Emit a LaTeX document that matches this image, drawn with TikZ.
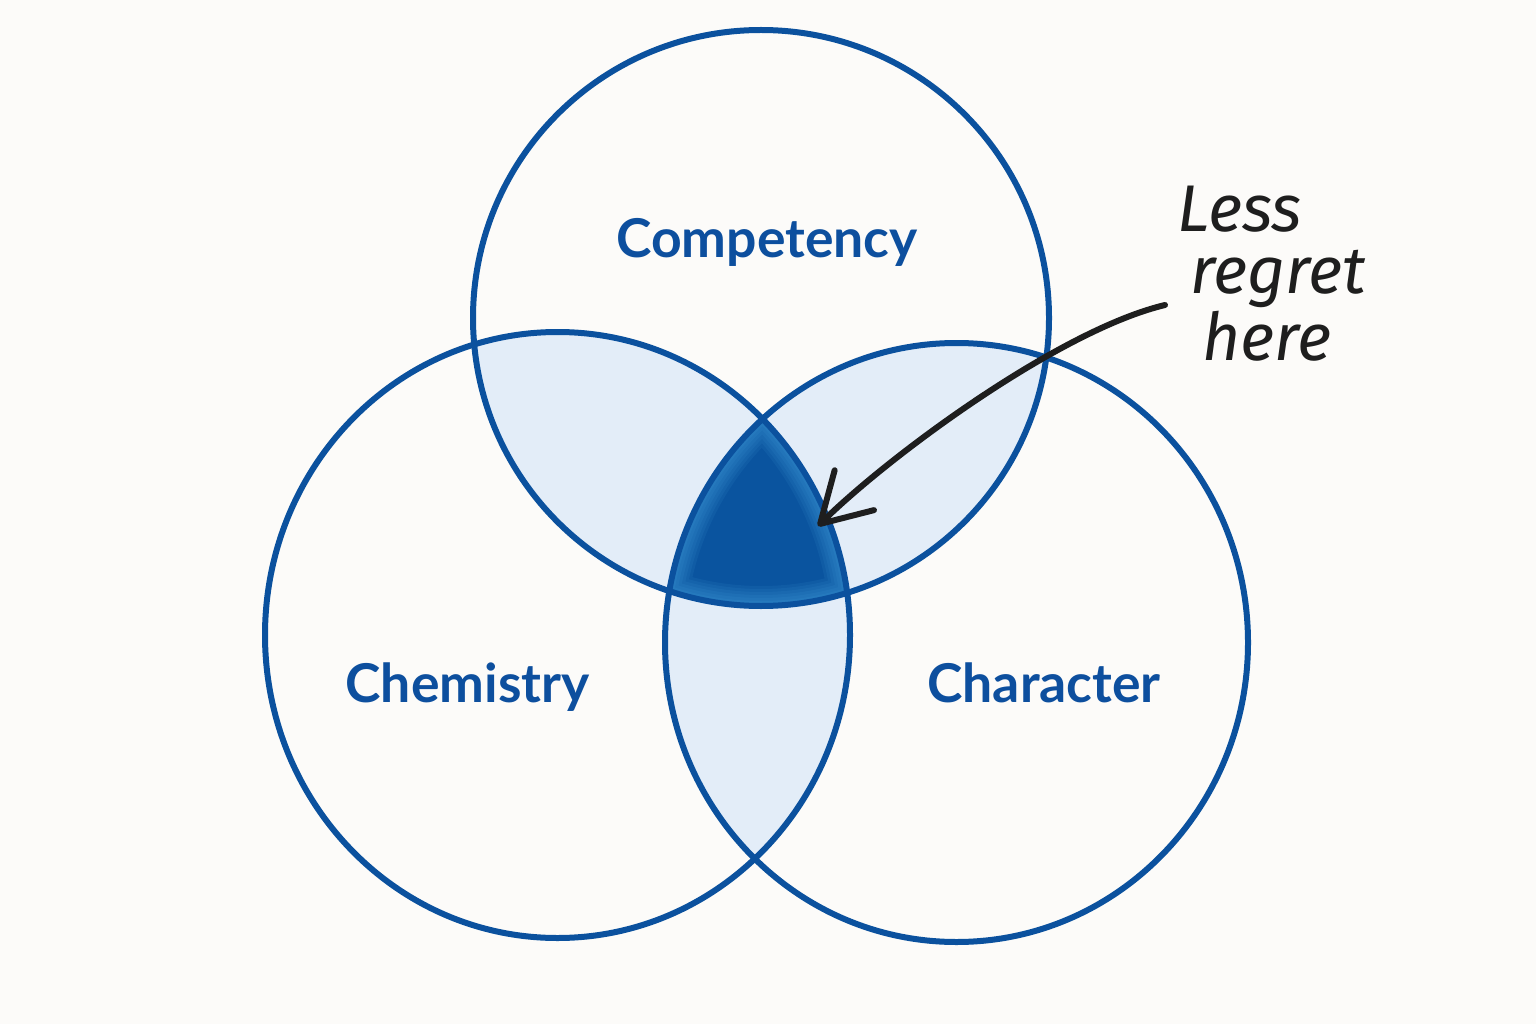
\documentclass[tikz,border=0pt]{standalone}
\usepackage{fontspec}
\usepackage{tikz}
\usetikzlibrary{positioning, arrows.meta}
\newfontfamily\setfont{Lato}
\newfontfamily\handfont{Fira Sans}
\definecolor{paper}{HTML}{FCFBF9}
\definecolor{ringblue}{HTML}{0B519E}
\definecolor{paleblue}{HTML}{E3EDF8}
\definecolor{coreblue}{HTML}{0A549F}
\definecolor{glowblue}{HTML}{4DB0EC}
\definecolor{textblue}{HTML}{0D4F9E}
\definecolor{ink}{HTML}{1E1E1E}
\tikzstyle{ring} = [draw=ringblue, line width=6pt]
\tikzstyle{overlap} = [fill=paleblue]
\tikzstyle{core} = [fill=coreblue]
\tikzstyle{setname} = [text=textblue, font=\setfont\bfseries\fontsize{53.5}{58}\selectfont, anchor=base, inner sep=0pt]
\tikzstyle{scrawl} = [text=ink, font=\handfont\itshape\fontsize{66}{64}\selectfont, anchor=base west, inner sep=0pt]
\tikzstyle{pointer} = [draw=ink, line width=6pt, line cap=round, -{Straight Barb[length=48pt, width=56pt, round]}]

% the three sets
\def\comppath{(761,318) ellipse [x radius=288, y radius=288]}
\def\chempath{(557.5,635) ellipse [x radius=292.5, y radius=303]}
\def\charpath{(956.5,642.5) ellipse [x radius=291.5, y radius=299.5]}

\begin{document}
\begin{tikzpicture}[x=1pt, y=-1pt]
        \fill [paper] (0,0) rectangle (1536,1024);
        \useasboundingbox (0,0) rectangle (1536,1024);

        % pairwise overlaps
        \begin{scope}
            \clip \comppath;
            \fill [overlap] \chempath;
            \fill [overlap] \charpath;
        \end{scope}
        \begin{scope}
            \clip \chempath;
            \fill [overlap] \charpath;
        \end{scope}

        % the middle, with a soft glow at its rim
        \begin{scope}
            \clip \comppath;
            \clip \chempath;
            \clip \charpath;
            \fill [core] (600,380) rectangle (900,640);
            \foreach \w in {40,34,...,4} {
                \draw [glowblue, line width=\w, opacity=0.09] \comppath \chempath \charpath;
            }
        \end{scope}

        \draw [ring] \comppath;
        \draw [ring] \chempath;
        \draw [ring] \charpath;

        \node (competency) [setname] at (767,258) {Competency};
        \node (chemistry) [setname] at (467.5,702) {Chemistry};
        \node (character) [setname] at (1044,702) {Character};

        \node (less) [scrawl] at (1177,232) {Less};
        \node (regret) [scrawl] at (1190,294) {regret};
        \node (here) [scrawl] at (1202,360) {here};

        \coordinate (tail) at (1165,305);
        \coordinate (tip) at (818,526);
        \draw [pointer] (tail) .. controls (1060,330) and (890,455) .. (tip);

\end{tikzpicture}
\end{document}
